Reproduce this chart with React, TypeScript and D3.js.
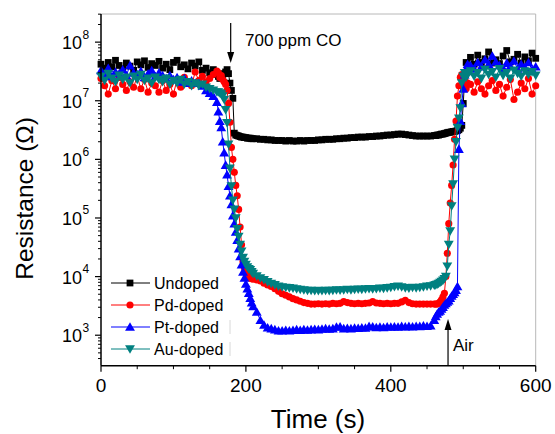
import React from "react";
import * as d3 from "d3";

// sampling times (s)
const time = [
  0, 5, 10, 15, 20, 25, 30, 35, 40, 45, 50, 55, 60, 65, 70, 75, 80, 85, 90, 95, 100, 105, 110, 115, 120, 125, 130, 135, 140, 145, 150, 155, 160,
  162, 164, 166, 168, 170, 172, 174, 176, 178, 180, 182, 184, 186, 188, 190, 192, 194, 196, 198, 200, 202, 204, 206, 208, 210,
  215, 220, 225, 230, 235, 240, 245, 250, 255, 260, 265, 270, 275, 280, 285, 290, 295, 300, 305, 310,
  315, 320, 325, 330, 335, 340, 345, 350, 355, 360, 365, 370, 375, 380, 385, 390, 395, 400, 405, 410,
  415, 420, 425, 430, 435, 440, 445, 450, 455, 460,
  462, 464, 466, 468, 470, 472, 474, 476, 478, 480, 482, 484, 486, 488, 490, 492, 494, 496, 498, 500, 502, 504, 506,
  510, 515, 520, 525, 530, 535, 540, 545, 550, 555, 560, 565, 570, 575, 580, 585, 590, 595, 600,
];

// resistance (Ohm)
const undoped = [
  4.2e7, 3.6e7, 4.5e7, 3.8e7, 4.9e7, 4.0e7, 3.5e7, 4.4e7, 3.9e7, 3.3e7, 4.6e7, 4.1e7, 4.8e7, 3.7e7, 4.3e7, 4.0e7, 4.7e7, 3.6e7, 4.2e7, 3.4e7,
  4.5e7, 4.9e7, 3.8e7, 4.1e7, 3.5e7, 4.4e7, 3.9e7, 4.6e7, 3.3e7, 3.6e7, 3.0e7, 3.4e7, 2.8e7,
  2.6e7, 2.4e7, 2.7e7, 2.5e7, 2.9e7, 3.1e7, 3.4e7, 2.9e7, 2.0e7, 1.5e7, 1.1e7, 2.8e6, 2.6e6, 2.55e6, 2.5e6, 2.45e6, 2.4e6, 2.4e6, 2.35e6, 2.35e6,
  2.3e6, 2.3e6, 2.3e6, 2.25e6, 2.25e6,
  2.25e6, 2.2e6, 2.2e6, 2.15e6, 2.15e6, 2.1e6, 2.1e6, 2.1e6, 2.05e6, 2.1e6,
  2.05e6, 2.05e6, 2.1e6, 2.05e6, 2.1e6, 2.1e6, 2.1e6, 2.15e6, 2.15e6, 2.2e6,
  2.2e6, 2.2e6, 2.25e6, 2.25e6, 2.3e6, 2.3e6, 2.35e6, 2.35e6, 2.4e6, 2.4e6,
  2.4e6, 2.45e6, 2.45e6, 2.5e6, 2.5e6, 2.55e6, 2.6e6, 2.6e6, 2.65e6, 2.7e6,
  2.7e6, 2.65e6, 2.6e6, 2.55e6, 2.5e6, 2.5e6, 2.5e6, 2.5e6, 2.5e6, 2.55e6,
  2.55e6, 2.6e6, 2.6e6, 2.65e6, 2.7e6, 2.7e6, 2.75e6, 2.8e6, 2.85e6, 2.9e6, 2.9e6, 2.95e6, 3.0e6, 3.0e6, 3.05e6, 3.1e6, 3.2e6, 3.4e6, 3.8e6,
  9e6, 2.4e7, 4.5e7, 3.8e7,
  5.5e7, 4.2e7, 6.0e7, 4.5e7, 5.2e7, 6.8e7, 4.4e7, 5.0e7, 4.3e7, 5.8e7, 7.2e7, 4.6e7, 5.1e7, 6.2e7, 4.4e7, 5.6e7, 4.8e7, 6.5e7, 5.3e7,
];

const pdDoped = [
  2.4e7, 1.8e7, 1.3e7, 2.2e7, 1.6e7, 2.5e7, 1.9e7, 1.5e7, 2.1e7, 1.7e7, 2.6e7, 1.6e7, 2.3e7, 1.4e7, 2.0e7, 1.8e7, 1.4e7, 2.2e7, 1.5e7, 1.9e7,
  1.3e7, 2.3e7, 1.7e7, 2.5e7, 2.0e7, 1.8e7, 3.1e7, 2.2e7, 2.6e7, 2.1e7, 2.4e7, 2.8e7, 3.2e7,
  3.0e7, 2.5e7, 2.7e7, 2.3e7, 2.1e7, 1.9e7, 1.5e7, 9e6, 4.3e6, 1.6e6, 1.0e6, 6e5, 3.6e5, 2.4e5, 1.4e5, 7e4, 3.5e4, 1.8e4, 1.4e4, 1.15e4,
  1.05e4, 9.8e3, 9.4e3, 9.2e3, 9.0e3,
  8.8e3, 8.4e3, 7.7e3, 7.2e3, 6.8e3, 6.2e3, 5.6e3, 5.1e3, 4.8e3, 4.5e3,
  4.2e3, 4.0e3, 3.8e3, 3.6e3, 3.5e3, 3.4e3, 3.4e3, 3.45e3, 3.4e3, 3.45e3,
  3.4e3, 3.5e3, 3.45e3, 3.5e3, 3.75e3, 3.6e3, 3.5e3, 3.45e3, 3.5e3, 3.45e3,
  3.5e3, 3.55e3, 3.75e3, 3.55e3, 3.5e3, 3.45e3, 3.5e3, 3.45e3, 3.5e3, 3.5e3,
  3.7e3, 3.95e3, 3.6e3, 3.45e3, 3.4e3, 3.4e3, 3.4e3, 3.4e3, 3.4e3, 3.4e3,
  3.4e3, 3.4e3, 3.5e3, 3.7e3, 4.0e3, 4.5e3, 5.2e3, 1.0e4, 2.5e4, 8e4, 1.8e5, 3.6e5, 8e5, 2.2e6, 4.5e6, 1.2e7, 1.8e7, 2.5e7, 2.8e7,
  1.8e7, 2.3e7, 1.6e7, 2.0e7,
  1.9e7, 1.4e7, 2.1e7, 1.6e7, 1.3e7, 1.8e7, 2.2e7, 1.5e7, 1.9e7, 1.2e7, 1.7e7, 2.3e7, 1.05e7, 1.4e7, 2.0e7, 1.6e7, 2.4e7, 1.3e7, 1.8e7,
];

const ptDoped = [
  3.3e7, 2.8e7, 3.6e7, 2.6e7, 3.1e7, 2.9e7, 3.4e7, 2.7e7, 4.0e7, 3.0e7, 2.8e7, 3.2e7, 2.5e7, 2.9e7, 3.3e7, 2.6e7, 3.0e7, 2.7e7, 2.4e7, 2.7e7,
  2.3e7, 2.5e7, 2.1e7, 2.4e7, 2.0e7, 2.2e7, 2.0e7, 2.0e7, 1.8e7, 1.5e7, 1.35e7, 1.2e7, 9.5e6,
  6.5e6, 4.5e6, 3.5e6, 2.0e6, 1.3e6, 8e5, 5.5e5, 3.5e5, 2.4e5, 1.7e5, 1.1e5, 8e4, 5.8e4, 4.2e4, 3.0e4, 2.2e4, 1.6e4, 1.2e4, 9.5e3, 7.5e3,
  6.2e3, 5.2e3, 4.3e3, 3.6e3, 3.1e3,
  2.5e3, 1.8e3, 1.5e3, 1.35e3, 1.3e3, 1.25e3, 1.2e3, 1.2e3, 1.22e3, 1.2e3,
  1.22e3, 1.25e3, 1.22e3, 1.25e3, 1.23e3, 1.25e3, 1.27e3, 1.25e3, 1.28e3, 1.3e3,
  1.28e3, 1.3e3, 1.38e3, 1.4e3, 1.3e3, 1.32e3, 1.3e3, 1.33e3, 1.32e3, 1.35e3,
  1.33e3, 1.42e3, 1.4e3, 1.36e3, 1.38e3, 1.36e3, 1.4e3, 1.38e3, 1.4e3, 1.38e3,
  1.42e3, 1.4e3, 1.42e3, 1.4e3, 1.43e3, 1.42e3, 1.45e3, 1.43e3, 1.45e3, 1.8e3,
  2.1e3, 2.3e3, 2.5e3, 2.6e3, 2.8e3, 3.0e3, 3.3e3, 3.5e3, 3.7e3, 3.9e3, 4.3e3, 4.7e3, 5.0e3, 5.4e3, 5.9e3, 6.8e3, 1.5e6, 4.5e6, 9e6,
  1.6e7, 2.8e7, 3.5e7, 4.2e7,
  4.0e7, 3.5e7, 4.5e7, 3.8e7, 5.0e7, 4.2e7, 5.8e7, 4.6e7, 4.0e7, 3.6e7, 4.4e7, 3.9e7, 4.8e7, 3.5e7, 4.2e7, 3.7e7, 4.5e7, 3.4e7, 3.8e7,
];

const auDoped = [
  2.6e7, 2.2e7, 2.9e7, 2.4e7, 2.1e7, 2.7e7, 2.3e7, 2.5e7, 2.0e7, 2.6e7, 2.3e7, 2.8e7, 2.2e7, 2.4e7, 2.0e7, 2.5e7, 2.3e7, 2.1e7, 2.4e7, 1.9e7,
  2.2e7, 2.0e7, 2.3e7, 1.9e7, 2.1e7, 1.8e7, 2.0e7, 1.8e7, 1.9e7, 1.7e7, 1.6e7, 1.5e7, 1.4e7,
  1.4e7, 1.35e7, 1.3e7, 1.2e7, 1.05e7, 7e6, 4.2e6, 1.8e6, 7e5, 3.5e5, 2e5, 1.4e5, 1e5, 6.5e4, 4.8e4, 3.5e4, 2.7e4, 2.1e4, 1.8e4, 1.6e4,
  1.45e4, 1.35e4, 1.3e4, 1.2e4, 1.12e4,
  1.02e4, 9.4e3, 8.8e3, 8.1e3, 7.6e3, 7.2e3, 6.8e3, 6.6e3, 6.5e3, 6.4e3,
  6.3e3, 6.1e3, 6.0e3, 5.9e3, 5.8e3, 5.8e3, 5.7e3, 5.75e3, 5.7e3, 5.8e3,
  5.75e3, 5.8e3, 5.9e3, 5.85e3, 5.9e3, 6.0e3, 5.9e3, 6.0e3, 6.05e3, 6.0e3,
  6.1e3, 6.2e3, 6.1e3, 6.2e3, 6.3e3, 6.25e3, 6.4e3, 6.5e3, 6.7e3, 6.8e3,
  6.6e3, 6.4e3, 6.3e3, 6.5e3, 6.4e3, 6.5e3, 6.6e3, 6.8e3, 6.9e3, 7.1e3,
  7.2e3, 7.4e3, 7.6e3, 7.9e3, 8.2e3, 8.6e3, 9.2e3, 1.0e4, 1.5e4, 3.5e4, 6e4, 1.6e5, 3.8e5, 1.0e6, 2e6, 3.5e6, 5e6, 7.5e6, 2e7,
  2.6e7, 3.0e7, 2.5e7, 2.8e7,
  3.2e7, 2.6e7, 3.0e7, 2.4e7, 3.4e7, 2.8e7, 3.1e7, 2.5e7, 3.5e7, 2.7e7, 3.0e7, 2.4e7, 3.3e7, 2.9e7, 2.6e7, 3.2e7, 2.8e7, 3.1e7, 2.7e7,
];

const seriesNames = ["Undoped", "Pd-doped", "Pt-doped", "Au-doped"];
const seriesValues = [undoped, pdDoped, ptDoped, auDoped];
const colors = ["#000000", "#ff0000", "#0000ff", "#008080"];
const symbols = [d3.symbolSquare, d3.symbolCircle, d3.symbolTriangle, d3.symbolTriangle];
const symbolSizes = [46, 40, 42, 42];
const rotations = [0, 0, 0, 180];

const xTicks = [0, 200, 400, 600];
const yExps = [3, 4, 5, 6, 7, 8];

const W = 555, H = 434;
const left = 101, right = 535.7, top = 14, bottom = 365.7;
const font = "'Liberation Sans', Arial, sans-serif";

const x = d3.scaleLinear().domain([0, 600]).range([left, right]);
const y = d3.scaleLog().domain([Math.pow(10, 2.48), Math.pow(10, 8.48)]).range([bottom, top]);

const Marker = ({ i, cx, cy }: { i: number; cx: number; cy: number }) => {
  const path = d3.symbol().type(symbols[i]).size(symbolSizes[i])() as string;
  return (
    <path
      d={path}
      transform={`translate(${cx},${cy}) rotate(${rotations[i]})${i >= 2 ? " translate(0,1)" : ""}`}
      fill={colors[i]}
    />
  );
};

export default function App() {
  const line = d3.line<number>().x((_, k) => x(time[k])).y((v) => y(v));

  // minor log ticks
  const minor: number[] = [];
  for (let e = 2; e <= 8; e++) {
    for (let m = 2; m <= 9; m++) {
      const v = m * Math.pow(10, e);
      if (y(v) >= top && y(v) <= bottom) minor.push(v);
    }
  }
  const xMinor = d3.range(0, 601, 50).filter((t) => t % 200 !== 0);

  return (
    <svg width={W} height={H} style={{ position: "absolute", left: 0, top: 0, background: "#fff" }} fontFamily={font}>
      {/* frame */}
      <line x1={left} x2={right} y1={top} y2={top} stroke="#b8b8b8" strokeWidth={1} />
      <line x1={right} x2={right} y1={top} y2={bottom} stroke="#b8b8b8" strokeWidth={1} />

      {/* series */}
      {seriesValues.map((vals, i) => (
        <g key={i}>
          <path d={line(vals) as string} fill="none" stroke={colors[i]} strokeWidth={1} />
          {vals.map((v, k) => (
            <Marker key={k} i={i} cx={x(time[k])} cy={y(v)} />
          ))}
        </g>
      ))}

      {/* axes */}
      <line x1={left} x2={left} y1={top} y2={bottom} stroke="#000" strokeWidth={1.5} />
      <line x1={left} x2={right} y1={bottom} y2={bottom} stroke="#000" strokeWidth={1.5} />
      {yExps.map((e) => {
        const v = Math.pow(10, e);
        return (
          <g key={e}>
            <line x1={left - 6} x2={left} y1={y(v)} y2={y(v)} stroke="#000" strokeWidth={1.2} />
            <text x={82} y={y(v) + 7} textAnchor="end" fontSize={18} fill="#000">10</text>
            <text x={82.5} y={y(v) - 3.5} fontSize={12} fill="#000">{e}</text>
          </g>
        );
      })}
      {minor.map((v) => (
        <line key={v} x1={left - 3} x2={left} y1={y(v)} y2={y(v)} stroke="#000" strokeWidth={1} />
      ))}
      {xTicks.map((t) => (
        <g key={t}>
          <line x1={x(t)} x2={x(t)} y1={bottom} y2={bottom + 6} stroke="#000" strokeWidth={1.2} />
          <text x={x(t)} y={bottom + 26} textAnchor="middle" fontSize={19} fill="#000">{t}</text>
        </g>
      ))}
      {xMinor.map((t) => (
        <line key={t} x1={x(t)} x2={x(t)} y1={bottom} y2={bottom + 3.5} stroke="#000" strokeWidth={1} />
      ))}

      {/* axis titles */}
      <text x={318} y={428} textAnchor="middle" fontSize={26} fill="#000">Time (s)</text>
      <text transform={`translate(33,${(117 + 280) / 2}) rotate(-90)`} textAnchor="middle" fontSize={24.5} fill="#000">
        Resistance (Ω)
      </text>

      {/* annotations */}
      <line x1={x(179)} x2={x(179)} y1={23} y2={54} stroke="#000" strokeWidth={1.2} />
      <path d={`M${x(179) - 3.5},52 L${x(179) + 3.5},52 L${x(179)},63 Z`} fill="#000" />
      <text x={245} y={46} fontSize={17} fill="#000">700 ppm CO</text>
      <line x1={x(479)} x2={x(479)} y1={bottom} y2={328} stroke="#000" strokeWidth={1.2} />
      <path d={`M${x(479) - 3.5},330 L${x(479) + 3.5},330 L${x(479)},319 Z`} fill="#000" />
      <text x={453} y={351} fontSize={17} fill="#000">Air</text>

      {/* legend */}
      {seriesNames.map((name, i) => {
        const ly = 283 + i * 22;
        return (
          <g key={name}>
            <line x1={111} x2={150} y1={ly} y2={ly} stroke={colors[i]} strokeWidth={1} />
            <Marker i={i} cx={130} cy={ly} />
            <text x={154} y={ly + 6} fontSize={16} fill="#000">{name}</text>
          </g>
        );
      })}
      <line x1={230} x2={230} y1={320} y2={334} stroke="#d8d8d8" strokeWidth={1} />
      <line x1={230} x2={230} y1={342} y2={356} stroke="#d8d8d8" strokeWidth={1} />
    </svg>
  );
}
